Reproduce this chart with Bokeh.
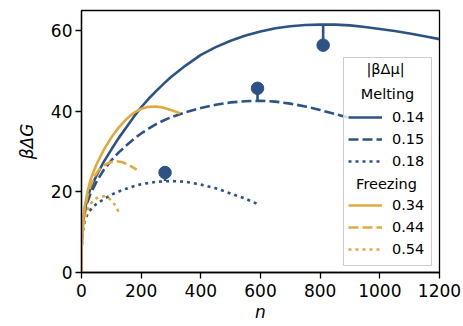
from bokeh.plotting import figure
from bokeh.models import Range1d, Legend, LegendItem, Label, FixedTicker, BoxAnnotation
from bokeh.embed import file_html
from bokeh.resources import INLINE

BLUE = "#2d5386"
GOLD = "#e0aa3e"

# Melting curves (|beta dmu| = 0.14, 0.15, 0.18)
melt_014_n = [0, 1, 3, 6, 10, 20, 30, 50, 75, 100, 125, 150, 175, 200, 225, 250, 275, 300, 350, 400, 450, 500,
              550, 600, 650, 700, 750, 800, 850, 900, 950, 1000, 1050, 1100, 1150, 1200]
melt_014_G = [0, 8, 11, 13, 15, 18.5, 20.8, 24, 27.5, 30.5, 33.4, 36, 38.6, 41, 43.1, 45, 46.8, 48.5, 51.4, 54, 55.9, 57.5,
              58.8, 59.8, 60.6, 61.1, 61.4, 61.5, 61.5, 61.3, 60.9, 60.4, 59.9, 59.3, 58.6, 57.9]

melt_015_n = [0, 1, 3, 6, 10, 20, 30, 50, 75, 100, 125, 150, 175, 200, 225, 250, 275, 300, 350, 400, 450, 500,
              550, 600, 650, 700, 750, 800, 850, 900]
melt_015_G = [0, 7.5, 10.5, 12.5, 14.5, 17.5, 19.5, 22.5, 25.5, 27.8, 29.8, 31.5, 33.1, 34.5, 35.7, 36.8, 37.7, 38.5,
              39.8, 40.8, 41.6, 42.2, 42.5, 42.6, 42.4, 41.9, 41.2, 40.3, 39.3, 38.3]

melt_018_n = [0, 1, 3, 6, 10, 20, 35, 50, 75, 100, 125, 150, 175, 200, 250, 300, 350, 400, 450, 500, 550, 590]
melt_018_G = [0, 6.5, 9, 10.8, 12.5, 14.5, 16, 17, 18.2, 19.3, 20.1, 20.8, 21.4, 21.9, 22.5, 22.7, 22.5, 21.8, 20.9,
              19.6, 18.3, 17]

# Freezing curves (|beta dmu| = 0.34, 0.44, 0.54)
frz_034_n = [0, 1, 3, 6, 10, 20, 30, 50, 75, 100, 125, 150, 175, 200, 225, 250, 275, 300, 330]
frz_034_G = [0, 8, 11, 13.5, 16, 20, 23, 26.8, 30.5, 33.5, 36, 38, 39.6, 40.6, 41.1, 41.2, 40.9, 40.3, 39.5]

frz_044_n = [0, 1, 3, 6, 10, 20, 30, 45, 60, 80, 100, 120, 140, 160, 185]
frz_044_G = [0, 7.5, 10.5, 13, 15.5, 19, 21.5, 24, 25.6, 26.8, 27.4, 27.6, 27.3, 26.6, 25.5]

frz_054_n = [0, 1, 3, 6, 10, 20, 30, 45, 60, 75, 90, 100, 110, 125]
frz_054_G = [0, 6.5, 9, 11, 13, 15.5, 17, 18.2, 18.8, 18.9, 18.5, 17.9, 17, 15]

# Nucleation points with stems to the curve maxima
nuc_n = [810, 590, 280]
nuc_G = [56.4, 45.7, 24.8]
nuc_peak = [61.5, 42.6, 22.7]

melt_labels = ["0.14", "0.15", "0.18"]
frz_labels = ["0.34", "0.44", "0.54"]
x_ticks = [0, 200, 400, 600, 800, 1000, 1200]
y_ticks = [0, 20, 40, 60]

FONT = "DejaVu Sans"

p = figure(width=463, height=326, output_backend="svg", toolbar_location=None,
           x_range=Range1d(0, 1200), y_range=Range1d(0, 65),
           min_border_left=81, min_border_right=24, min_border_top=10, min_border_bottom=54)
p.xgrid.visible = False
p.ygrid.visible = False
p.outline_line_color = "black"
p.outline_line_width = 1.3
p.background_fill_color = "white"
p.border_fill_color = "white"

for ax in (p.xaxis[0], p.yaxis[0]):
    ax.major_tick_out = 6
    ax.major_tick_in = 0
    ax.minor_tick_line_color = None
    ax.axis_line_width = 1.3
    ax.major_tick_line_width = 1.3
    ax.major_label_text_font = FONT
    ax.major_label_text_font_size = "17px"
    ax.major_label_text_color = "black"
    ax.axis_label_text_font = FONT
    ax.axis_label_text_font_size = "17px"
    ax.axis_label_text_font_style = "italic"
    ax.axis_label_text_color = "black"

p.xaxis.ticker = FixedTicker(ticks=x_ticks)
p.yaxis.ticker = FixedTicker(ticks=y_ticks)
p.xaxis.axis_label = "n"
p.yaxis.axis_label = "βΔG"
p.xaxis.major_label_standoff = 5
p.yaxis.major_label_standoff = 3
p.xaxis.axis_label_standoff = 2
p.yaxis.axis_label_standoff = 11

LW = 2.6
r14 = p.line(melt_014_n, melt_014_G, line_color=BLUE, line_width=LW)
r15 = p.line(melt_015_n, melt_015_G, line_color=BLUE, line_width=LW, line_dash="10 4")
r18 = p.line(melt_018_n, melt_018_G, line_color=BLUE, line_width=LW, line_dash="3 4")
r34 = p.line(frz_034_n, frz_034_G, line_color=GOLD, line_width=LW)
r44 = p.line(frz_044_n, frz_044_G, line_color=GOLD, line_width=LW, line_dash="10 4")
r54 = p.line(frz_054_n, frz_054_G, line_color=GOLD, line_width=LW, line_dash="3 4")

p.segment(x0=nuc_n, y0=nuc_G, x1=nuc_n, y1=nuc_peak, line_color=BLUE, line_width=LW)
p.scatter(nuc_n, nuc_G, size=12.5, fill_color=BLUE, line_color=BLUE)

blank = p.line(x=[], y=[], line_alpha=0)

# legend frame (drawn as a box so that header texts sit on top of it)
p.add_layout(BoxAnnotation(left=262, right=350, bottom=7, top=215,
                           left_units="screen", right_units="screen",
                           bottom_units="screen", top_units="screen",
                           fill_color="white", fill_alpha=0.8,
                           line_color="#cccccc", line_width=1, line_alpha=1,
                           level="annotation"))

items = [
    LegendItem(label=" ", renderers=[blank]),
    LegendItem(label=" ", renderers=[blank]),
    LegendItem(label=melt_labels[0], renderers=[r14]),
    LegendItem(label=melt_labels[1], renderers=[r15]),
    LegendItem(label=melt_labels[2], renderers=[r18]),
    LegendItem(label=" ", renderers=[blank]),
    LegendItem(label=frz_labels[0], renderers=[r34]),
    LegendItem(label=frz_labels[1], renderers=[r44]),
    LegendItem(label=frz_labels[2], renderers=[r54]),
]
legend = Legend(items=items, location=(262, 7), padding=5, margin=0, spacing=0,
                glyph_width=34, glyph_height=22, label_height=22, label_width=34,
                label_standoff=10, border_line_alpha=0,
                background_fill_alpha=0,
                label_text_font=FONT, label_text_font_size="14.5px", label_text_color="black")
p.add_layout(legend)

for txt, x, y in [("|βΔμ|", 304, 204), ("Melting", 306, 179), ("Freezing", 305, 89)]:
    p.add_layout(Label(x=x, y=y, x_units="screen", y_units="screen", text=txt, level="overlay",
                       text_align="center", text_baseline="middle",
                       text_font=FONT, text_font_size="14.5px", text_color="black"))

open("out.html", "w").write(file_html(p, INLINE))
